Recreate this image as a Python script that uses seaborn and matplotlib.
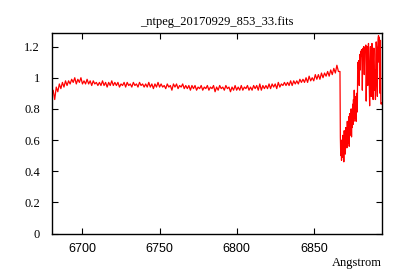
import numpy as np
import pandas as pd
import matplotlib
matplotlib.use("Agg")
import matplotlib.pyplot as plt
import seaborn as sns
from matplotlib.ticker import FormatStrFormatter, FixedLocator

title = "_ntpeg_20170929_853_33.fits"
xlabel = "Angstrom"

# continuum part: 1 Angstrom steps starting at 6681
cont_start = 6681.0
cont_flux = [
    0.92, 0.86, 0.94, 0.91, 0.96, 0.93, 0.97, 0.94, 0.98, 0.95,
    0.98, 0.96, 0.99, 0.97, 1.00, 0.96, 0.99, 0.97, 1.00, 0.96,
    0.98, 0.96, 0.99, 0.96, 0.98, 0.95, 0.98, 0.96, 0.97, 0.95,
    0.97, 0.95, 0.98, 0.95, 0.97, 0.94, 0.97, 0.95, 0.98, 0.95,
    0.97, 0.95, 0.97, 0.94, 0.96, 0.95, 0.97, 0.94, 0.97, 0.95,
    0.96, 0.94, 0.97, 0.95, 0.96, 0.94, 0.97, 0.95, 0.96, 0.94,
    0.96, 0.94, 0.97, 0.94, 0.96, 0.93, 0.96, 0.94, 0.97, 0.94,
    0.96, 0.94, 0.95, 0.93, 0.96, 0.94, 0.95, 0.92, 0.96, 0.94,
    0.96, 0.93, 0.95, 0.94, 0.96, 0.93, 0.95, 0.93, 0.95, 0.92,
    0.95, 0.93, 0.95, 0.92, 0.94, 0.93, 0.95, 0.92, 0.94, 0.93,
    0.95, 0.92, 0.94, 0.93, 0.95, 0.91, 0.94, 0.92, 0.95, 0.93,
    0.94, 0.92, 0.95, 0.93, 0.94, 0.91, 0.94, 0.92, 0.95, 0.92,
    0.94, 0.92, 0.95, 0.92, 0.94, 0.93, 0.95, 0.92, 0.94, 0.92,
    0.95, 0.93, 0.95, 0.92, 0.96, 0.92, 0.95, 0.93, 0.95, 0.93,
    0.96, 0.93, 0.96, 0.94, 0.96, 0.93, 0.97, 0.94, 0.96, 0.95,
    0.97, 0.95, 0.97, 0.95, 0.98, 0.95, 0.98, 0.96, 0.98, 0.96,
    0.99, 0.97, 0.99, 0.97, 1.00, 0.97, 1.01, 0.98, 1.00, 0.98,
    1.02, 0.99, 1.02, 0.99, 1.03, 1.00, 1.03, 1.01, 1.04, 1.01,
    1.05, 1.02, 1.06, 1.03, 1.08, 1.04,
]

# band part: 0.25 Angstrom steps starting at 6867
band_start = 6867.0
band_flux = [
    1.04, 0.62,
    0.50, 0.60, 0.47, 0.55, 0.49, 0.63, 0.52, 0.58,
    0.46, 0.66, 0.55, 0.62, 0.51, 0.68, 0.57, 0.64,
    0.55, 0.72, 0.58, 0.70, 0.60, 0.75, 0.56, 0.77,
    0.63, 0.74, 0.66, 0.80, 0.62, 0.78, 0.68, 0.83,
    0.70, 0.86, 0.72, 0.92, 0.74, 0.88, 0.78, 0.85,
    0.72, 0.90,
    0.84, 0.78, 1.08, 1.10, 1.06, 1.11,
    0.95, 1.12, 1.15, 1.05, 1.17, 1.14, 1.18, 1.16, 0.92, 1.15,
    1.19, 1.17, 1.20, 1.02, 1.18, 1.19, 1.17, 1.21,
    0.85, 1.05, 1.20, 1.12, 0.95, 1.18, 1.22, 1.08, 0.90, 0.82,
    1.10, 1.20, 1.05, 0.88, 1.14, 1.22, 1.18, 0.95, 0.86, 1.12,
    1.19, 1.08, 0.92, 1.05, 0.86, 1.15, 1.23, 1.18, 0.95, 0.88,
    1.20, 1.25, 1.27, 1.10, 1.26, 1.15, 0.90, 1.24, 0.84, 0.83,
    0.84,
]

x_ticks = [6700, 6750, 6800, 6850]
y_ticks = [0, 0.2, 0.4, 0.6, 0.8, 1.0, 1.2]

wave = np.concatenate([
    cont_start + 1.0 * np.arange(len(cont_flux)),
    band_start + 0.25 * np.arange(len(band_flux)),
])
flux = np.array(cont_flux + band_flux)
df = pd.DataFrame({"wave": wave, "flux": flux})

sns.set_theme(style="ticks")
plt.rcParams["font.family"] = ["Liberation Serif", "DejaVu Serif"]
plt.rcParams["text.color"] = "black"

fig = plt.figure(figsize=(4.0, 2.8), dpi=100)
ax = fig.add_axes([0.131, 0.166, 0.823, 0.715])
sns.lineplot(data=df, x="wave", y="flux", ax=ax, color="#ff0000",
             linewidth=0.9, estimator=None, sort=False)

ax.set_xlim(6680.5, 6894.0)
ax.set_ylim(0, 1.285)
ax.xaxis.set_major_locator(FixedLocator(x_ticks))
ax.yaxis.set_major_locator(FixedLocator(y_ticks))
ax.yaxis.set_major_formatter(FormatStrFormatter("%g"))
ax.tick_params(direction="in", length=4, width=0.8, top=True, right=True,
               colors="black", labelsize=9)
ax.tick_params(axis="x", pad=7)
ax.tick_params(axis="y", pad=9)
for lab in ax.get_xticklabels():
    lab.set_family(["Liberation Sans", "DejaVu Sans"])
for s in ax.spines.values():
    s.set_visible(True)
    s.set_color("black")
    s.set_linewidth(1.0)

ax.set_title(title, fontsize=9, pad=6, color="black")
ax.set_xlabel(xlabel, fontsize=9, loc="right", labelpad=1, color="black")
ax.set_ylabel("")

fig.savefig("out.png", dpi=100)
